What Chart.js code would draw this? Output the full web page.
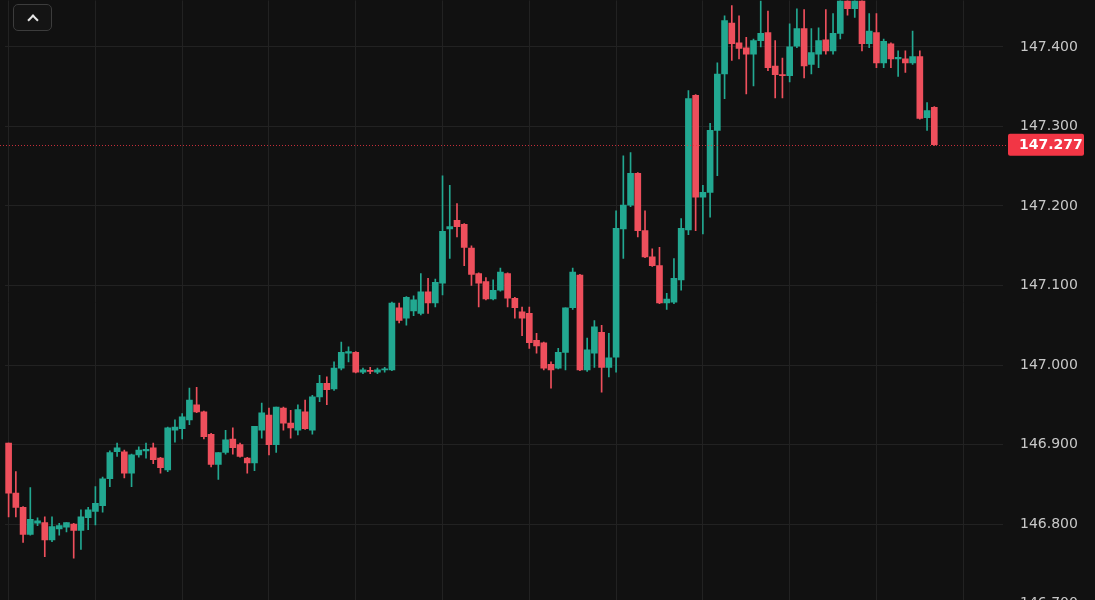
<!DOCTYPE html>
<html>
<head>
<meta charset="utf-8">
<script src="https://cdn.jsdelivr.net/npm/chart.js@4.4.1/dist/chart.umd.min.js"></script>
<style>
  html, body { margin: 0; padding: 0; background: #111111; overflow: hidden; width: 1095px; height: 600px; position: relative; }
  #wrap { position: absolute; left: 0; top: -25px; width: 1095px; height: 654px; }
  #btn { position: absolute; left: 13px; top: 4px; width: 39px; height: 27px; box-sizing: border-box;
         border: 1.5px solid #3c3c3c; border-radius: 5px; background: #141414; z-index: 2; }
  #btn span { position: absolute; left: 15px; top: 11px; width: 6px; height: 6px;
         border-top: 2px solid #e6e6e6; border-left: 2px solid #e6e6e6; transform: rotate(45deg); }
</style>
</head>
<body>
<div id="wrap">
  <canvas id="c" width="1095" height="654"></canvas>
</div>
<div id="btn"><span></span></div>
<script>
// OHLC series (one entry per candle)
const open  = [146.902,146.839,146.821,146.787,146.801,146.802,146.780,146.794,146.796,146.800,
               146.792,146.808,146.816,146.823,146.857,146.891,146.891,146.864,146.887,146.892,
               146.896,146.883,146.868,146.918,146.920,146.931,146.950,146.941,146.913,146.875,
               146.890,146.907,146.900,146.883,146.877,146.918,146.937,146.900,146.946,146.927,
               146.918,146.941,146.918,146.960,146.977,146.970,146.996,147.015,147.016,146.991,
               146.993,146.991,146.994,146.994,147.072,147.059,147.068,147.065,147.092,147.078,
               147.103,147.171,147.182,147.177,147.147,147.115,147.105,147.083,147.094,147.115,
               147.084,147.067,147.065,147.031,147.028,147.001,146.996,147.016,147.072,147.113,
               146.994,147.015,147.041,146.997,147.010,147.171,147.201,147.241,147.169,147.136,
               147.125,147.078,147.079,147.107,147.170,147.339,147.211,147.217,147.295,147.366,
               147.430,147.405,147.399,147.391,147.408,147.418,147.376,147.365,147.364,147.401,
               147.423,147.378,147.391,147.409,147.395,147.417,147.458,147.448,147.458,147.404,
               147.418,147.380,147.404,147.385,147.385,147.380,147.388,147.311,147.324];
const high  = [146.902,146.866,146.822,146.846,146.808,146.809,146.809,146.801,146.802,146.801,
               146.818,146.821,146.847,146.859,146.892,146.902,146.893,146.888,146.897,146.902,
               146.902,146.884,146.922,146.931,146.939,146.971,146.972,146.942,146.914,146.890,
               146.918,146.921,146.902,146.884,146.923,146.952,146.946,146.947,146.947,146.943,
               146.950,146.956,146.962,146.987,146.985,147.004,147.029,147.023,147.017,146.996,
               146.997,146.996,146.997,147.079,147.078,147.086,147.087,147.115,147.109,147.108,
               147.238,147.226,147.203,147.178,147.150,147.116,147.110,147.107,147.122,147.116,
               147.085,147.073,147.073,147.040,147.029,147.004,147.021,147.072,147.122,147.114,
               147.034,147.056,147.050,147.040,147.194,147.263,147.267,147.242,147.194,147.146,
               147.148,147.090,147.134,147.184,147.345,147.340,147.226,147.304,147.380,147.439,
               147.452,147.439,147.412,147.410,147.458,147.445,147.408,147.386,147.429,147.448,
               147.447,147.423,147.424,147.447,147.442,147.470,147.470,147.470,147.462,147.442,
               147.442,147.410,147.405,147.395,147.395,147.420,147.395,147.330,147.325];
const low   = [146.809,146.809,146.777,146.786,146.798,146.759,146.778,146.786,146.790,146.757,
               146.768,146.793,146.799,146.815,146.847,146.885,146.858,146.847,146.884,146.883,
               146.876,146.864,146.866,146.903,146.907,146.925,146.940,146.907,146.872,146.856,
               146.888,146.888,146.884,146.864,146.867,146.908,146.887,146.890,146.918,146.908,
               146.912,146.919,146.913,146.954,146.950,146.968,146.994,147.004,146.990,146.989,
               146.989,146.989,146.991,146.993,147.053,147.050,147.062,147.063,147.065,147.073,
               147.088,147.134,147.161,147.125,147.100,147.073,147.082,147.082,147.093,147.073,
               147.059,147.037,147.021,147.015,146.994,146.971,146.995,146.994,147.070,146.993,
               146.992,146.997,146.966,146.985,146.991,147.134,147.199,147.161,147.135,147.124,
               147.077,147.070,147.077,147.094,147.164,147.169,147.165,147.186,147.238,147.335,
               147.383,147.385,147.341,147.351,147.400,147.370,147.336,147.336,147.356,147.399,
               147.361,147.366,147.374,147.391,147.391,147.410,147.440,147.437,147.395,147.399,
               147.374,147.374,147.374,147.363,147.368,147.378,147.309,147.295,147.276];
const close = [146.839,146.821,146.787,146.806,146.804,146.780,146.797,146.798,146.802,146.792,
               146.809,146.818,146.826,146.857,146.890,146.896,146.864,146.887,146.893,146.894,
               146.881,146.871,146.921,146.922,146.935,146.956,146.941,146.910,146.875,146.890,
               146.906,146.896,146.885,146.877,146.923,146.940,146.900,146.947,146.927,146.921,
               146.944,146.920,146.960,146.977,146.969,146.996,147.016,147.017,146.991,146.994,
               146.992,146.994,146.995,147.078,147.056,147.085,147.082,147.092,147.078,147.104,
               147.168,147.174,147.174,147.148,147.114,147.103,147.083,147.094,147.117,147.084,
               147.072,147.059,147.028,147.024,146.996,146.994,147.016,147.072,147.117,146.994,
               147.019,147.048,146.997,147.009,147.172,147.201,147.241,147.169,147.136,147.125,
               147.078,147.083,147.109,147.172,147.335,147.211,147.217,147.295,147.366,147.433,
               147.404,147.398,147.391,147.408,147.417,147.374,147.365,147.364,147.400,147.423,
               147.376,147.393,147.408,147.395,147.417,147.458,147.448,147.458,147.404,147.420,
               147.380,147.407,147.385,147.387,147.380,147.388,147.310,147.320,147.277];
const emptySlots = 9;          // empty room to the right of the last candle
const gridEvery = 12;          // a vertical grid line every 12 candles
const yTicks = [146.7, 146.8, 146.9, 147.0, 147.1, 147.2, 147.3, 147.4];

const UP = '#22a891', DOWN = '#ee4f5c';
const labels = Array.from({length: open.length + emptySlots}, (_, i) => String(i));
const colors = open.map((o, i) => close[i] >= o ? UP : DOWN);
const lastPrice = close[close.length - 1];

const priceLine = {
  id: 'priceLine',
  afterDatasetsDraw(chart) {
    const {ctx, chartArea} = chart;
    const y = chart.scales.y.getPixelForValue(lastPrice);
    ctx.save();
    ctx.strokeStyle = 'rgba(242,54,69,0.8)';
    ctx.lineWidth = 1;
    ctx.setLineDash([1, 2]);
    ctx.beginPath();
    ctx.moveTo(0, Math.round(y) + 0.5);
    ctx.lineTo(chartArea.right + 5, Math.round(y) + 0.5);
    ctx.stroke();
    ctx.restore();
  },
  afterDraw(chart) {
    const {ctx} = chart;
    const y = chart.scales.y.getPixelForValue(lastPrice);
    ctx.save();
    ctx.fillStyle = '#f23645';
    const x0 = 1008, w = 76, h = 22;
    ctx.beginPath();
    if (ctx.roundRect) ctx.roundRect(x0, y - h / 2, w, h, 2); else ctx.rect(x0, y - h / 2, w, h);
    ctx.fill();
    ctx.fillStyle = '#ffffff';
    ctx.font = 'bold 14px "DejaVu Sans"';
    ctx.textAlign = 'left';
    ctx.textBaseline = 'middle';
    ctx.fillText(lastPrice.toFixed(3), 1019, y + 1);
    ctx.restore();
  }
};

const chart = new Chart(document.getElementById('c'), {
  type: 'bar',
  data: {
    labels,
    datasets: [
      { label: 'wick', data: open.map((_, i) => [low[i], high[i]]), backgroundColor: colors,
        barThickness: 1, grouped: false, minBarLength: 1, order: 2 },
      { label: 'body', data: open.map((o, i) => [o, close[i]]), backgroundColor: colors,
        barThickness: 6, grouped: false, minBarLength: 1, order: 1 }
    ]
  },
  options: {
    responsive: false,
    animation: false,
    events: [],
    layout: { padding: { left: 5, right: 0, top: 0, bottom: 0 } },
    plugins: { legend: { display: false }, tooltip: { enabled: false } },
    scales: {
      x: {
        afterFit: s => { s.height = 0; },
        ticks: { display: false, autoSkip: false },
        border: { display: false },
        grid: { offset: false, drawTicks: false, lineWidth: 1,
                color: c => (c.index % gridEvery === 0) ? '#222222' : 'rgba(0,0,0,0)' }
      },
      y: {
        position: 'right',
        min: yTicks[0],
        max: 147.4585,
        afterFit: s => { s.width = 92; },
        afterBuildTicks: s => { s.ticks = yTicks.map(v => ({ value: v })); },
        border: { display: false },
        grid: { color: '#222222', drawTicks: false },
        ticks: { color: '#c8c8c8', padding: 17, crossAlign: 'near',
                 font: { family: '"DejaVu Sans"', size: 14 },
                 callback: v => Number(v).toFixed(3) }
      }
    }
  },
  plugins: [priceLine]
});
// align the top of the plot area with the top of the page
document.getElementById('wrap').style.top = (-chart.chartArea.top) + 'px';
</script>
</body>
</html>
